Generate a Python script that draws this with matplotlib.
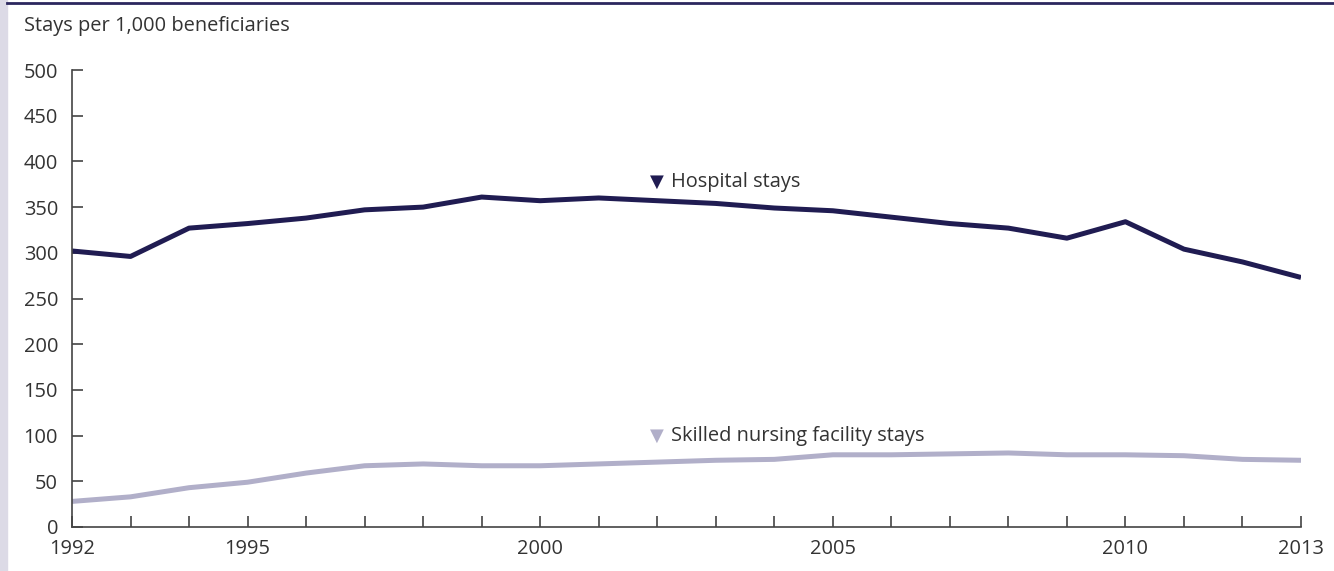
import matplotlib.pyplot as plt
from matplotlib.patches import Rectangle
from matplotlib.lines import Line2D

# Medicare stays per 1,000 beneficiaries, 1992-2013
years = list(range(1992, 2014))
hospital = [302, 296, 327, 332, 338, 347, 350, 361, 357, 360, 357, 354,
            349, 346, 339, 332, 327, 316, 334, 304, 290, 273]
snf = [28, 33, 43, 49, 59, 67, 69, 67, 67, 69, 71, 73,
       74, 79, 79, 80, 81, 79, 79, 78, 74, 73]
year_labels = [1992, 1995, 2000, 2005, 2010, 2013]

navy = "#201c52"
lavender = "#b1afc9"
txt = "#333333"
fs = 14.4

plt.rcParams["font.family"] = ["Open Sans", "DejaVu Sans"]

fig = plt.figure(figsize=(13.34, 5.71), dpi=100)
ax = fig.add_axes([72 / 1334, 1 - 527 / 571, 1229 / 1334, 457 / 571])

# frame decorations: side strip and top rule
fig.patches.append(Rectangle((0, 0), 7 / 1334, 1, transform=fig.transFigure,
                             color="#dcdae6", zorder=0))
fig.lines.append(Line2D([7 / 1334, 1], [1 - 2.5 / 571, 1 - 2.5 / 571],
                        transform=fig.transFigure, color="#2b275e", lw=2))

ax.plot(years, hospital, color=navy, lw=3.6, solid_capstyle="butt")
ax.plot(years, snf, color=lavender, lw=3.6, solid_capstyle="butt")

ax.set_xlim(1992, 2013)
ax.set_ylim(0, 500)
for s in ["top", "right"]:
    ax.spines[s].set_visible(False)
for s in ["left", "bottom"]:
    ax.spines[s].set_color("#444444")
    ax.spines[s].set_linewidth(1.2)

ax.set_xticks(years)
ax.set_xticklabels([str(y) if y in year_labels else "" for y in years])
ax.set_yticks(range(0, 501, 50))
ax.tick_params(axis="both", direction="in", length=8, width=1.2, color="#444444",
               labelsize=fs, labelcolor=txt)
ax.tick_params(axis="x", pad=9)
ax.tick_params(axis="y", pad=10)

# series labels
ax.text(2002, 378, "▼", color=navy, fontsize=13, ha="center", va="center",
        family="DejaVu Sans")
ax.text(2002.24, 378, "Hospital stays", color=txt, fontsize=fs, ha="left", va="center")
ax.text(2002, 100, "▼", color=lavender, fontsize=13, ha="center", va="center",
        family="DejaVu Sans")
ax.text(2002.24, 100, "Skilled nursing facility stays", color=txt, fontsize=fs,
        ha="left", va="center")

fig.text(24 / 1334, 1 - 26 / 571, "Stays per 1,000 beneficiaries", color=txt,
         fontsize=fs, ha="left", va="center")

fig.savefig("out.png", dpi=100)
